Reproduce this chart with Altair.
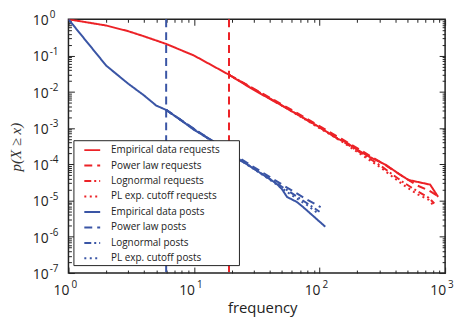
import altair as alt
import pandas as pd

# ---------------- data ----------------
series_names = [
    "Empirical data requests", "Power law requests", "Lognormal requests", "PL exp. cutoff requests",
    "Empirical data posts", "Power law posts", "Lognormal posts", "PL exp. cutoff posts",
]

req_emp_x = [1, 2, 3, 4, 6, 10, 19, 30, 50, 80, 100, 140, 160, 200, 250, 340, 430, 510, 760, 880]
req_emp_y = [1.0, 0.673, 0.468, 0.339, 0.209, 0.1, 0.0295, 0.0112, 0.00417, 0.00166, 0.00105,
             5.0e-4, 4.2e-4, 2.5e-4, 1.6e-4, 9.5e-5, 5.4e-5, 3.7e-5, 2.75e-5, 1.26e-5]

req_pl_x = [19, 60, 150, 310, 457, 600, 740, 880]
req_pl_y = [0.0295, 3.16e-3, 5.0e-4, 1.12e-4, 4.7e-5, 2.6e-5, 1.9e-5, 1.32e-5]
req_ln_x = [19, 60, 150, 310, 457, 600, 740, 820]
req_ln_y = [0.0295, 2.95e-3, 4.47e-4, 8.9e-5, 3.3e-5, 1.82e-5, 1.2e-5, 8.3e-6]
req_exp_x = [19, 60, 150, 310, 457, 600, 740, 800]
req_exp_y = [0.0295, 2.88e-3, 4.27e-4, 7.9e-5, 2.8e-5, 1.5e-5, 1.05e-5, 7.6e-6]

post_emp_x = [1, 2, 3, 4, 5, 6, 8, 10, 13, 18, 22, 25, 32, 45, 50, 55, 66, 74, 111]
post_emp_y = [1.0, 0.0525, 0.0166, 0.00794, 0.00417, 0.00316, 0.00158, 8.9e-4, 5.25e-4, 2.4e-4,
              1.41e-4, 1.12e-4, 6.5e-5, 3.0e-5, 2.1e-5, 1.26e-5, 9.1e-6, 6.6e-6, 1.9e-6]

post_pl_x = [6, 10, 20, 40, 60, 80, 102]
post_pl_y = [3.16e-3, 9.5e-4, 2.0e-4, 4.5e-5, 1.9e-5, 1.05e-5, 6.6e-6]
post_ln_x = [6, 10, 20, 40, 60, 80, 100]
post_ln_y = [3.16e-3, 9.3e-4, 1.9e-4, 4.0e-5, 1.6e-5, 8.3e-6, 4.9e-6]
post_exp_x = [6, 10, 20, 40, 60, 80, 98]
post_exp_y = [3.16e-3, 9.3e-4, 1.86e-4, 3.8e-5, 1.4e-5, 7.4e-6, 4.3e-6]

xmin_series = ["Power law requests", "Power law posts"]
xmin_values = [19, 6]

x_label_values = [1, 10, 100, 1000]
x_label_exps = ["0", "1", "2", "3"]
y_label_values = [1, 1e-1, 1e-2, 1e-3, 1e-4, 1e-5, 1e-6, 1e-7]
y_label_exps = ["0", "-1", "-2", "-3", "-4", "-5", "-6", "-7"]

# ---------------- build tables ----------------
RED = "#ec2227"
BLUE = "#3a55a5"
FONT = "Open Sans"
W, H = 380, 256

pairs = [
    (series_names[0], req_emp_x, req_emp_y), (series_names[1], req_pl_x, req_pl_y),
    (series_names[2], req_ln_x, req_ln_y), (series_names[3], req_exp_x, req_exp_y),
    (series_names[4], post_emp_x, post_emp_y), (series_names[5], post_pl_x, post_pl_y),
    (series_names[6], post_ln_x, post_ln_y), (series_names[7], post_exp_x, post_exp_y),
]
rows = []
for name, xs_, ys_ in pairs:
    for i, (a, b) in enumerate(zip(xs_, ys_)):
        rows.append({"series": name, "x": a, "y": b, "i": i})
lines_df = pd.DataFrame(rows)
rules_df = pd.DataFrame({"series": xmin_series, "x": xmin_values})
xlab_df = pd.DataFrame({"v": x_label_values, "e": x_label_exps, "b": ["10"] * 4})
ylab_df = pd.DataFrame({"v": y_label_values, "e": y_label_exps, "b": ["10"] * 8})

x_ticks = sorted({float(f"{m}e{e}") for e in range(0, 3) for m in range(1, 10)} | {1000.0})
y_ticks = sorted({float(f"{m}e{e}") for e in range(-7, 0) for m in range(1, 10)} | {1.0})

xs = alt.Scale(type="log", domain=[1, 1000], nice=False)
ys = alt.Scale(type="log", domain=[1e-7, 1], nice=False)

major = "abs(log(datum.value)/LN10 - round(log(datum.value)/LN10)) < 0.001"


def tick_axis(orient, offset, values):
    return alt.Axis(orient=orient, offset=offset, values=values, labels=False, domain=False,
                    grid=False, title=None, ticks=True, tickColor="#222", tickWidth=1,
                    tickSize={"condition": {"test": major, "value": 6}, "value": 3})


legend = alt.Legend(orient="none", legendX=5, legendY=122, title=" ", titleOrient="right",
                    titlePadding=18, symbolType="stroke", symbolStrokeWidth=2, symbolSize=256,
                    symbolOffset=9,
                    labelFont=FONT, labelFontSize=10, labelColor="#222", labelOffset=10,
                    rowPadding=1.6, padding=1, strokeColor="#222", fillColor="white",
                    cornerRadius=0)

color_scale = alt.Scale(domain=series_names, range=[RED] * 4 + [BLUE] * 4)
dash_scale = alt.Scale(domain=series_names,
                       range=[[1, 0], [8, 5], [7, 3, 2, 3], [2, 3.5]] * 2)

lines = alt.Chart(lines_df).mark_line(strokeWidth=2, clip=True).encode(
    x=alt.X("x:Q", scale=xs, axis=tick_axis("top", -H, x_ticks)),
    y=alt.Y("y:Q", scale=ys, axis=tick_axis("right", -W, y_ticks)),
    color=alt.Color("series:N", scale=color_scale, legend=legend),
    strokeDash=alt.StrokeDash("series:N", scale=dash_scale, legend=legend),
    order="i:Q",
)

rules = alt.Chart(rules_df).mark_rule(strokeWidth=2).encode(
    x=alt.X("x:Q", scale=xs, axis=None),
    y=alt.value(0), y2=alt.value(H),
    color=alt.Color("series:N", scale=color_scale, legend=legend),
    strokeDash=alt.StrokeDash("series:N", scale=dash_scale, legend=legend),
)

xlab_base = alt.Chart(xlab_df).mark_text(align="right", baseline="middle", dx=1, font=FONT,
                                         fontSize=14, color="#222").encode(
    x=alt.X("v:Q", scale=xs, axis=tick_axis("bottom", -H, x_ticks)),
    y=alt.value(H + 18), text="b:N")
xlab_exp = alt.Chart(xlab_df).mark_text(align="left", baseline="middle", dx=3, font=FONT,
                                        fontSize=10, color="#222").encode(
    x=alt.X("v:Q", scale=xs, axis=None),
    y=alt.value(H + 12), text="e:N")

ylab_base = alt.Chart(ylab_df).mark_text(align="left", baseline="middle", dy=2, font=FONT,
                                         fontSize=14, color="#222").encode(
    y=alt.Y("v:Q", scale=ys, axis=tick_axis("left", -W, y_ticks)),
    x=alt.value(-36), text="b:N")
ylab_exp = alt.Chart(ylab_df).mark_text(align="left", baseline="middle", dy=-4, font=FONT,
                                        fontSize=10, color="#222").encode(
    y=alt.Y("v:Q", scale=ys, axis=None),
    x=alt.value(-19), text="e:N")

xtitle = alt.Chart(pd.DataFrame({"t": ["frequency"]})).mark_text(
    align="center", baseline="alphabetic", font=FONT, fontSize=15, color="#222").encode(
    x=alt.value(W / 2 + 6), y=alt.value(H + 40), text="t:N")
ytitle = alt.Chart(pd.DataFrame({"t": ["p(X \u2265 x)"]})).mark_text(
    align="center", baseline="middle", font="Liberation Serif", fontStyle="italic",
    fontSize=15, angle=270, color="#333").encode(
    x=alt.value(-53), y=alt.value(H / 2 + 1), text="t:N")

chart = alt.layer(rules, lines, xlab_base, xlab_exp, ylab_base, ylab_exp, xtitle, ytitle).resolve_axis(
    x="independent", y="independent"
).properties(
    width=W, height=H,
    autosize=alt.AutoSizeParams(type="none"),
    padding={"left": 61, "top": 10, "right": 12, "bottom": 47},
).configure_view(stroke="#222", strokeWidth=1.5)

chart.save("out.html", embed_options={"renderer": "svg", "actions": False})
